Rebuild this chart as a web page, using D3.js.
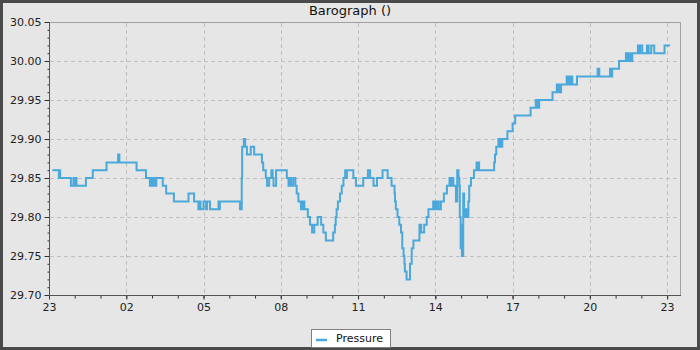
<!DOCTYPE html>
<html>
<head>
<meta charset="utf-8">
<script src="https://cdn.jsdelivr.net/npm/d3@7"></script>
<style>
  body { margin: 0; background: #e6e6e6; }
  svg { display: block; font-family: "DejaVu Sans", sans-serif; }
</style>
</head>
<body>
<svg id="chart" width="700" height="350"></svg>
<script>
// barograph, one day from 23:00

var title = "Barograph ()";
var seriesName = "Pressure";

// minutes after 23:00, pressure (inHg) holds until the next entry
var minutes = [8, 23, 25, 26, 51, 57, 59, 62, 64, 86, 102, 134, 161, 164, 204, 226, 235, 239, 242, 246,
  248, 250, 265, 273, 291, 325, 338, 348, 351, 353, 360, 366, 368, 375, 395, 397, 398, 445, 449, 450,
  454, 457, 461, 470, 478, 496, 499, 505, 508, 513, 518, 521, 523, 529, 554, 558, 562, 564, 569, 574,
  577, 581, 587, 589, 592, 594, 595, 603, 608, 613, 618, 626, 634, 639, 645, 662, 666, 668, 670, 673,
  678, 682, 686, 690, 692, 694, 709, 715, 732, 743, 748, 756, 764, 777, 789, 798, 805, 806, 808, 812,
  816, 820, 823, 826, 828, 829, 833, 841, 845, 849, 863, 867, 874, 880, 884, 895, 898, 899, 902, 906,
  908, 913, 920, 927, 933, 935, 937, 940, 941, 942, 948, 951, 954, 956, 957, 959, 960, 962, 965, 967,
  971, 973, 977, 979, 981, 983, 990, 996, 998, 1000, 1002, 1037, 1039, 1042, 1047, 1050, 1052, 1054, 1056, 1068,
  1080, 1086, 1122, 1134, 1136, 1138, 1140, 1142, 1173, 1183, 1185, 1188, 1191, 1193, 1206, 1209, 1212, 1214, 1217, 1219,
  1230, 1278, 1282, 1307, 1309, 1312, 1328, 1344, 1346, 1349, 1351, 1355, 1357, 1359, 1372, 1375, 1377, 1382, 1393, 1397,
  1403, 1410, 1434, 1447];

var pressure = [29.86, 29.85, 29.86, 29.85, 29.84, 29.85, 29.84, 29.85, 29.84, 29.85, 29.86, 29.87, 29.88, 29.87, 29.86, 29.85, 29.84, 29.85, 29.84, 29.85,
  29.84, 29.85, 29.84, 29.83, 29.82, 29.83, 29.82, 29.81, 29.82, 29.81, 29.82, 29.81, 29.82, 29.81, 29.82, 29.81, 29.82, 29.81, 29.85, 29.89,
  29.90, 29.89, 29.88, 29.89, 29.88, 29.87, 29.86, 29.85, 29.84, 29.85, 29.86, 29.85, 29.84, 29.86, 29.85, 29.84, 29.85, 29.84, 29.85, 29.84,
  29.83, 29.82, 29.81, 29.82, 29.81, 29.82, 29.81, 29.80, 29.79, 29.78, 29.79, 29.80, 29.79, 29.78, 29.77, 29.78, 29.79, 29.80, 29.81, 29.82,
  29.83, 29.84, 29.85, 29.86, 29.85, 29.86, 29.85, 29.84, 29.85, 29.86, 29.85, 29.84, 29.85, 29.86, 29.85, 29.84, 29.83, 29.82, 29.81, 29.80,
  29.79, 29.78, 29.76, 29.75, 29.74, 29.73, 29.72, 29.74, 29.76, 29.77, 29.79, 29.78, 29.79, 29.80, 29.81, 29.82, 29.81, 29.82, 29.81, 29.82,
  29.81, 29.82, 29.83, 29.84, 29.85, 29.84, 29.85, 29.84, 29.85, 29.84, 29.82, 29.86, 29.85, 29.84, 29.80, 29.76, 29.79, 29.75, 29.83, 29.80,
  29.81, 29.80, 29.82, 29.84, 29.84, 29.85, 29.86, 29.87, 29.86, 29.87, 29.86, 29.87, 29.88, 29.89, 29.90, 29.89, 29.90, 29.89, 29.90, 29.91,
  29.92, 29.93, 29.94, 29.95, 29.94, 29.95, 29.94, 29.95, 29.96, 29.97, 29.96, 29.97, 29.96, 29.97, 29.98, 29.97, 29.98, 29.97, 29.98, 29.97,
  29.98, 29.99, 29.98, 29.99, 29.98, 29.99, 30.00, 30.01, 30.00, 30.01, 30.00, 30.01, 30.00, 30.01, 30.02, 30.01, 30.02, 30.01, 30.02, 30.01,
  30.02, 30.01, 30.02, 30.02];

var yTicks = [29.70, 29.75, 29.80, 29.85, 29.90, 29.95, 30.00, 30.05];
var xTickLabels = ["23", "02", "05", "08", "11", "14", "17", "20", "23"];

var W = 700, H = 350;
var plotL = 49, plotR = 680, plotT = 22, plotB = 295;

var start = new Date(2024, 0, 1, 23, 0);
var end = d3.timeMinute.offset(start, 1470);

var data = minutes.map(function(m, i) {
  return { t: d3.timeMinute.offset(start, m), v: pressure[i] };
});

var svg = d3.select("#chart");

// frame
svg.append("rect")
  .attr("x", 1.5).attr("y", 1.5)
  .attr("width", W - 3).attr("height", H - 3)
  .attr("fill", "#e6e6e6")
  .attr("stroke", "#4a4a4a")
  .attr("stroke-width", 3);

var x = d3.scaleTime().domain([start, end]).range([plotL, plotR]);
var y = d3.scaleLinear().domain([29.70, 30.05]).range([plotB, plotT]);

var xMajor = xTickLabels.map(function(d, i) { return d3.timeHour.offset(start, i * 3); });
var xMinor = d3.range(0, 25).map(function(i) { return d3.timeHour.offset(start, i); });
var yMinor = d3.range(0, 36).map(function(i) { return +(29.70 + i * 0.01).toFixed(2); });

// plot area
svg.append("rect")
  .attr("x", plotL + 0.5).attr("y", plotT + 0.5)
  .attr("width", plotR - plotL).attr("height", plotB - plotT)
  .attr("fill", "#e6e6e6")
  .attr("stroke", "#a0a0a0");

// grid
var grid = svg.append("g")
  .attr("stroke", "#c0c0c0")
  .attr("stroke-dasharray", "4,3");

grid.selectAll(".gx").data(xMajor.slice(1)).enter().append("line")
  .attr("x1", function(d) { return Math.round(x(d)) + 0.5; })
  .attr("x2", function(d) { return Math.round(x(d)) + 0.5; })
  .attr("y1", plotT + 1).attr("y2", plotB);

grid.selectAll(".gy").data(yTicks.slice(1, -1)).enter().append("line")
  .attr("y1", function(d) { return Math.round(y(d)) + 0.5; })
  .attr("y2", function(d) { return Math.round(y(d)) + 0.5; })
  .attr("x1", plotL + 1).attr("x2", plotR);

// line
var line = d3.line()
  .x(function(d) { return x(d.t); })
  .y(function(d) { return y(d.v); })
  .curve(d3.curveStepAfter);

svg.append("path")
  .datum(data)
  .attr("fill", "none")
  .attr("stroke", "#4aa8da")
  .attr("stroke-width", 2)
  .attr("d", line);

// axes
var yAxisMinor = d3.axisLeft(y).tickValues(yMinor).tickSize(2).tickFormat("");
var yAxis = d3.axisLeft(y).tickValues(yTicks).tickSize(5).tickPadding(3)
  .tickFormat(d3.format(".2f"));
var xAxisMinor = d3.axisBottom(x).tickValues(xMinor).tickSize(3).tickFormat("");
var xAxis = d3.axisBottom(x).tickValues(xMajor).tickSize(4).tickPadding(4)
  .tickFormat(function(d, i) { return xTickLabels[i]; });

function styleAxis(g) {
  g.select(".domain").remove();
  g.selectAll(".tick line").attr("stroke", "#333");
  g.selectAll("text").attr("fill", "#222").attr("font-size", 11)
    .attr("font-family", "DejaVu Sans, sans-serif");
}

svg.append("g").attr("transform", "translate(" + (plotL + 0.5) + ",0)").call(yAxisMinor).call(styleAxis);
svg.append("g").attr("transform", "translate(" + (plotL + 0.5) + ",0)").call(yAxis).call(styleAxis);
svg.append("g").attr("transform", "translate(0," + (plotB + 0.5) + ")").call(xAxisMinor).call(styleAxis);
svg.append("g").attr("transform", "translate(0," + (plotB + 0.5) + ")").call(xAxis).call(styleAxis);

// axis lines
svg.append("line")
  .attr("x1", plotL + 0.5).attr("x2", plotL + 0.5)
  .attr("y1", plotT).attr("y2", plotB + 1)
  .attr("stroke", "#555");
svg.append("line")
  .attr("x1", plotL).attr("x2", plotR + 1)
  .attr("y1", plotB + 0.5).attr("y2", plotB + 0.5)
  .attr("stroke", "#555");

// title
svg.append("text")
  .attr("x", W / 2).attr("y", 15)
  .attr("text-anchor", "middle")
  .attr("font-size", 13)
  .attr("fill", "#111")
  .text(title);

// legend
var lg = svg.append("g").attr("transform", "translate(311,329)");
lg.append("rect")
  .attr("x", 0.5).attr("y", 0.5)
  .attr("width", 79).attr("height", 18)
  .attr("fill", "#fff")
  .attr("stroke", "#808080");
lg.append("line")
  .attr("x1", 5).attr("x2", 16)
  .attr("y1", 11).attr("y2", 11)
  .attr("stroke", "#4aa8da")
  .attr("stroke-width", 2.5);
lg.append("text")
  .attr("x", 25).attr("y", 13)
  .attr("font-size", 11)
  .attr("fill", "#111")
  .text(seriesName);
</script>
</body>
</html>
